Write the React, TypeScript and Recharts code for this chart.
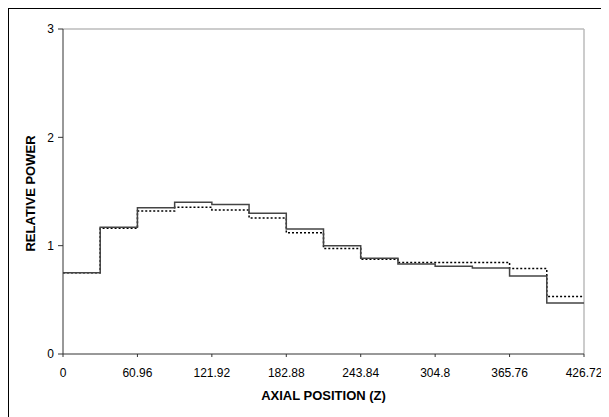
import { LineChart, Line, XAxis, YAxis, ReferenceLine } from "recharts";

// axial node boundaries (cm) and relative power per node
const positions = [0, 30.48, 60.96, 91.44, 121.92, 152.4, 182.88, 213.36, 243.84, 274.32, 304.8, 335.28, 365.76, 396.24, 426.72];
const measured = [0.75, 1.17, 1.35, 1.4, 1.38, 1.3, 1.155, 1.0, 0.885, 0.83, 0.81, 0.795, 0.72, 0.47];
const calculated = [0.75, 1.16, 1.32, 1.355, 1.33, 1.255, 1.12, 0.975, 0.875, 0.845, 0.845, 0.845, 0.79, 0.53];
const xTicks = [0, 60.96, 121.92, 182.88, 243.84, 304.8, 365.76, 426.72];
const yTicks = [0, 1, 2, 3];

// stepAfter needs the last level repeated at the end boundary
const data = positions.map((z, i) => ({
  z,
  measured: measured[Math.min(i, measured.length - 1)],
  calculated: calculated[Math.min(i, calculated.length - 1)],
}));

const font = "'Liberation Sans', Arial, sans-serif";

export default function App() {
  return (
    <div
      style={{
        marginTop: -1,
        marginLeft: -1,
        width: 600,
        height: 408,
        borderTop: "2px solid #000",
        borderLeft: "2px solid #000",
        fontFamily: font,
      }}
    >
      <LineChart width={600} height={408} data={data} margin={{ top: 20, right: 25, left: 0, bottom: 0 }}>
        <XAxis
          dataKey="z"
          type="number"
          domain={[0, 426.72]}
          ticks={xTicks}
          tickSize={3}
          tickMargin={11}
          height={63}
          stroke="#333"
          tick={{ fill: "#000", fontSize: 12, fontFamily: font }}
          label={{
            value: "AXIAL POSITION (Z)",
            position: "insideBottom",
            offset: 17,
            style: { fill: "#000", fontSize: 13, fontWeight: "bold", fontFamily: font },
          }}
        />
        <YAxis
          type="number"
          domain={[0, 3]}
          ticks={yTicks}
          width={54}
          tickSize={5}
          tickMargin={4}
          stroke="#333"
          tick={{ fill: "#000", fontSize: 12, fontFamily: font }}
          label={{
            value: "RELATIVE POWER",
            angle: -90,
            position: "insideLeft",
            offset: 21,
            dy: 2,
            style: { fill: "#000", fontSize: 13, fontWeight: "bold", fontFamily: font, textAnchor: "middle" },
          }}
        />
        <ReferenceLine y={3} stroke="#bbb" strokeWidth={1.5} />
        <ReferenceLine x={426.72} stroke="#bbb" strokeWidth={1.5} />
        <Line
          type="stepAfter"
          dataKey="calculated"
          stroke="#000"
          strokeWidth={1.5}
          strokeDasharray="2 2"
          dot={false}
          isAnimationActive={false}
        />
        <Line
          type="stepAfter"
          dataKey="measured"
          stroke="#444"
          strokeWidth={1.5}
          dot={false}
          isAnimationActive={false}
        />
      </LineChart>
    </div>
  );
}
